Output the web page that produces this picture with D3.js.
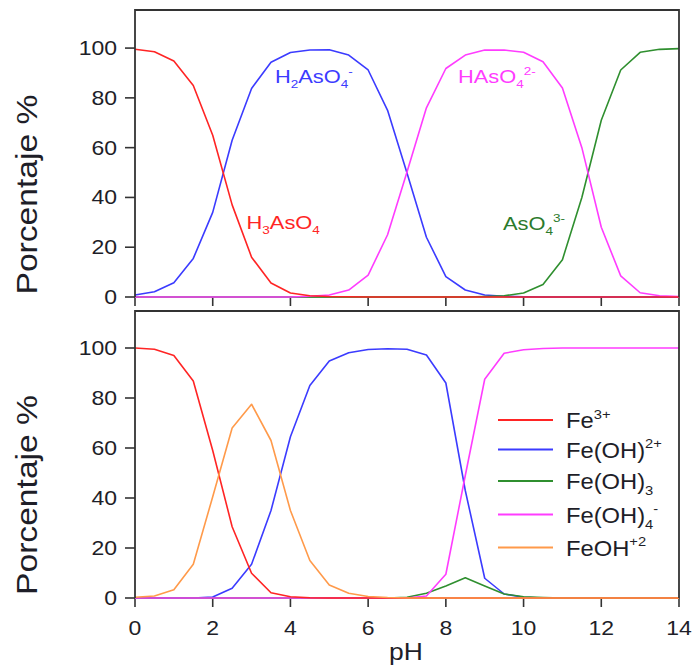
<!DOCTYPE html>
<html><head><meta charset="utf-8">
<script src="https://cdn.jsdelivr.net/npm/d3@7"></script>
<style>body{margin:0;background:#fff}svg{display:block;font-family:"Liberation Sans",Arial,Helvetica,sans-serif}</style>
</head><body><svg id="c" width="694" height="669"></svg>
<script>
// ---------- data ----------
const pH = [0,0.5,1,1.5,2,2.5,3,3.5,4,4.5,5,5.5,6,6.5,7,7.5,8,8.5,9,9.5,10,10.5,11,11.5,12,12.5,13,13.5,14];
const xTicks = [0,2,4,6,8,10,12,14];
const yTicks = [0,20,40,60,80,100];

// top panel: arsenate species (%)
const H3AsO4  = [99.5,98.5,94.8,85,65,37,16,5.6,1.6,0.5,0.2,0.1,0,0,0,0,0,0,0,0,0,0,0,0,0,0,0,0,0];
const H2AsO4  = [0.8,2.1,5.7,15.5,34,63,83.8,94.3,98.2,99.2,99.3,97.2,91.2,75,49.8,24,8.2,2.8,0.8,0.3,0.1,0,0,0,0,0,0,0,0];
const HAsO4   = [0,0,0,0,0,0,0,0,0,0.3,0.8,2.8,8.8,25,50.2,76,91.8,97.2,99.2,99.2,98.3,94.5,84,60,28,8.5,1.7,0.5,0.2];
const AsO4    = [0,0,0,0,0,0,0,0,0,0,0,0,0,0,0,0,0,0,0.2,0.5,1.6,5,15,40,71,91.2,98.3,99.5,99.8];

// bottom panel: iron species (%)
const Fe3     = [100,99.5,97,86.8,59,28.5,9.9,2.1,0.5,0.1,0,0,0,0,0,0,0,0,0,0,0,0,0,0,0,0,0,0,0];
const FeOH2   = [0,0,0,0,0.4,3.9,13.5,35,64.5,85,94.8,98.1,99.4,99.7,99.5,97.2,86,43,7.9,1.6,0.3,0,0,0,0,0,0,0,0];
const FeOH3   = [0,0,0,0,0,0,0,0,0,0,0,0,0,0,0.3,1.9,4.8,8.1,4.8,1.6,0.5,0.2,0,0,0,0,0,0,0];
const FeOH4   = [0,0,0,0,0,0,0,0,0,0,0,0,0,0,0,0.8,9.5,49,87.5,97.9,99.3,99.8,100,100,100,100,100,100,100];
const FeOHp2  = [0.3,0.8,3.3,13.5,40.5,68,77.5,63,35,15,5.2,1.9,0.6,0.2,0,0,0,0,0,0,0,0,0,0,0,0,0,0,0];

// ---------- styles ----------
const C = {red:"#ff2424", blue:"#3b3bff", green:"#2f8f2f", magenta:"#ff3cff", orange:"#ff9a4a", axis:"#333", text:"#1e1e28"};
const K = 1.15; // horizontal text stretch

const svg = d3.select("#c");
const x = d3.scaleLinear().domain([0,14]).range([135,679]);
const yTop = d3.scaleLinear().domain([0,115.3]).range([297,10]);
const yBot = d3.scaleLinear().domain([0,114.8]).range([598,311]);

function stext(parent, px, py, anchor, size, fill, parts, k = K) {
  const g = parent.append("g").attr("transform", `translate(${px},${py}) scale(${k},1)`);
  const t = g.append("text").attr("text-anchor", anchor).attr("font-size", size).attr("fill", fill);
  let cur = 0;
  parts.forEach(([s, type]) => {
    let off = 0, fs = size;
    if (type === "sub") { off = size * 0.28; fs = size * 0.62; }
    if (type === "sup") { off = -size * 0.42; fs = size * 0.62; }
    t.append("tspan").attr("dy", off - cur).attr("font-size", fs).text(s);
    cur = off;
  });
  return t;
}

function panel(y, series, xLabels) {
  const g = svg.append("g");
  const y0 = y(0), yt = y.range()[1];
  // y axis ticks + labels
  yTicks.forEach(t => {
    g.append("line").attr("x1", x(0) - 10).attr("x2", x(0)).attr("y1", y(t)).attr("y2", y(t))
      .attr("stroke", C.axis).attr("stroke-width", 1.6);
    stext(g, 117, y(t) + 7, "end", 20, C.text, [[String(t), "n"]]);
  });
  // x ticks
  xTicks.forEach(t => {
    g.append("line").attr("x1", x(t)).attr("x2", x(t)).attr("y1", y0).attr("y2", y0 + 9)
      .attr("stroke", C.axis).attr("stroke-width", 1.6);
    if (xLabels) stext(g, x(t), 635, "middle", 20, C.text, [[String(t), "n"]]);
  });
  // x axis line
  g.append("line").attr("x1", x(0)).attr("x2", x(14)).attr("y1", y0).attr("y2", y0)
    .attr("stroke", C.axis).attr("stroke-width", 1.2);
  // curves
  const line = d3.line().x((d, i) => x(pH[i])).y(d => y(d));
  series.forEach(s => {
    g.append("path").datum(s.v).attr("d", line).attr("fill", "none")
      .attr("stroke", s.c).attr("stroke-width", 1.6).attr("stroke-linejoin", "round");
  });
  // frame (left, top, right)
  g.append("path").attr("d", `M${x(0)},${y0}V${yt}H${x(14)}V${y0}`)
    .attr("fill", "none").attr("stroke", C.axis).attr("stroke-width", 1.8);
  // y label
  const lab = g.append("g").attr("transform", `translate(37,${(y(100) + y(0)) / 2 + 22}) rotate(-90)`);
  lab.append("text").attr("text-anchor", "middle").attr("font-size", 29).attr("fill", C.text)
    .attr("textLength", 200).attr("lengthAdjust", "spacingAndGlyphs").text("Porcentaje %");
  return g;
}

const gTop = panel(yTop, [
  {v: H2AsO4, c: C.blue}, {v: AsO4, c: C.green}, {v: HAsO4, c: C.magenta}, {v: H3AsO4, c: C.red}
], false);
const gBot = panel(yBot, [
  {v: FeOH2, c: C.blue}, {v: FeOH3, c: C.green}, {v: FeOH4, c: C.magenta}, {v: Fe3, c: C.red}, {v: FeOHp2, c: C.orange}
], true);

// species labels in top panel
stext(gTop, x(3.6), yTop(86), "start", 19, C.blue, [["H","n"],["2","sub"],["AsO","n"],["4","sub"],["-","sup"]]);
stext(gTop, x(2.87), yTop(27.5), "start", 19, C.red, [["H","n"],["3","sub"],["AsO","n"],["4","sub"]]);
stext(gTop, x(8.31), yTop(86), "start", 19, C.magenta, [["HAsO","n"],["4","sub"],["2-","sup"]]);
stext(gTop, x(9.47), yTop(27), "start", 19, "#2b7a2b", [["AsO","n"],["4","sub"],["3-","sup"]]);

// legend (bottom panel)
const legend = [
  {c: C.red,     parts: [["Fe","n"],["3+","sup"]]},
  {c: C.blue,    parts: [["Fe(OH)","n"],["2+","sup"]]},
  {c: C.green,   parts: [["Fe(OH)","n"],["3","sub"]]},
  {c: C.magenta, parts: [["Fe(OH)","n"],["4","sub"],["-","sup"]]},
  {c: C.orange,  parts: [["FeOH","n"],["+2","sup"]]}
];
const legY = [420, 449.5, 481, 514.5, 547.5];
legend.forEach((d, i) => {
  gBot.append("line").attr("x1", 498).attr("x2", 553).attr("y1", legY[i]).attr("y2", legY[i])
    .attr("stroke", d.c).attr("stroke-width", 2);
  stext(gBot, 566, legY[i] + 8, "start", 22, C.text, d.parts, 1.08);
});

// x label
stext(svg, 406, 660, "middle", 23, C.text, [["pH","n"]]);
</script></body></html>
